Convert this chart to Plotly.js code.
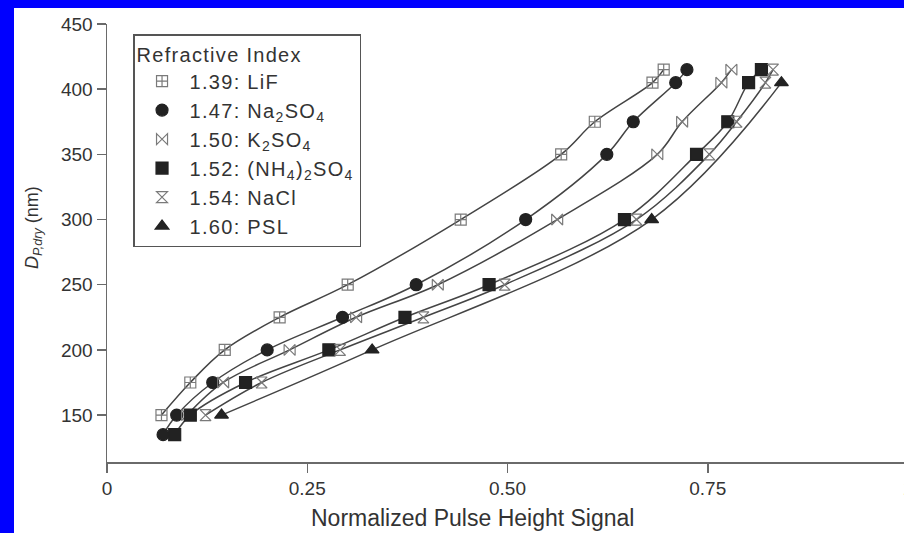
<!DOCTYPE html>
<html>
<head>
<meta charset="utf-8">
<script src="https://cdn.plot.ly/plotly-3.0.1.min.js"></script>
<style>
html, body { margin: 0; padding: 0; background: #0000ff; overflow: hidden; width: 904px; height: 533px; }
#chart { position: absolute; left: 14px; top: 8px; width: 914px; height: 525px; background: #fff; }
.legendtext, .legendtitletext { letter-spacing: 1.3px; }
</style>
</head>
<body>
<div id="chart"></div>
<script>
// Data
const seriesNames = ['1.39: LiF', '1.47: Na<sub>2</sub>SO<sub>4</sub>', '1.50: K<sub>2</sub>SO<sub>4</sub>',
  '1.52: (NH<sub>4</sub>)<sub>2</sub>SO<sub>4</sub>', '1.54: NaCl', '1.60: PSL'];

const lifX  = [0.068, 0.104, 0.147, 0.2155, 0.3005, 0.4416, 0.567, 0.609, 0.681, 0.695];
const lifY  = [150, 175, 200, 225, 250, 300, 350, 375, 405, 415];

const naX   = [0.070, 0.087, 0.132, 0.200, 0.294, 0.386, 0.5227, 0.624, 0.657, 0.710, 0.724];
const naY   = [135, 150, 175, 200, 225, 250, 300, 350, 375, 405, 415];

const kX    = [0.100, 0.145, 0.228, 0.311, 0.413, 0.562, 0.687, 0.718, 0.767, 0.7795];
const kY    = [150, 175, 200, 225, 250, 300, 350, 375, 405, 415];

const nh4X  = [0.0845, 0.104, 0.173, 0.277, 0.372, 0.477, 0.646, 0.736, 0.775, 0.801, 0.817];
const nh4Y  = [135, 150, 175, 200, 225, 250, 300, 350, 375, 405, 415];

const naclX = [0.123, 0.193, 0.291, 0.395, 0.4965, 0.661, 0.752, 0.786, 0.822, 0.8315];
const naclY = [150, 175, 200, 225, 250, 300, 350, 375, 405, 415];

const pslX  = [0.143, 0.331, 0.680, 0.842];
const pslY  = [150, 200, 300, 405];

const xTickVals = [0, 0.25, 0.5, 0.75, 1];
const xTickText = ['0', '0.25', '0.50', '0.75', '1'];
const yTickVals = [150, 200, 250, 300, 350, 400, 450];

const xs = [lifX, naX, kX, nh4X, naclX, pslX];
const ys = [lifY, naY, kY, nh4Y, naclY, pslY];
const symbols = ['square-cross-open', 'circle', 'bowtie-open', 'square', 'hourglass-open', 'triangle-up'];
const mColors = ['#7a7a7a', '#222222', '#7a7a7a', '#222222', '#7a7a7a', '#222222'];
const mSizes = [11, 12, 11, 12, 11, 12];

const traces = [];
for (let i = 0; i < xs.length; i++) {
  traces.push({
    x: xs[i], y: ys[i], type: 'scatter', mode: 'lines',
    line: { color: '#444', width: 1.5, shape: 'spline', smoothing: 1 },
    showlegend: false, hoverinfo: 'skip'
  });
}
for (let i = 0; i < xs.length; i++) {
  traces.push({
    x: xs[i], y: ys[i], type: 'scatter', mode: 'markers', name: seriesNames[i],
    marker: { symbol: symbols[i], size: mSizes[i], color: mColors[i],
              line: { color: mColors[i], width: 1.2 } },
    cliponaxis: false
  });
}

const font = 'Liberation Sans, Arial, Helvetica, sans-serif';
const layout = {
  width: 914, height: 525,
  margin: { l: 93, r: 20, t: 16, b: 71 },
  paper_bgcolor: '#ffffff', plot_bgcolor: '#ffffff',
  font: { family: font, color: '#333', size: 19 },
  showlegend: true,
  legend: {
    x: 0.0325, y: 0.977, xanchor: 'left', yanchor: 'top',
    bordercolor: '#555', borderwidth: 1.5, bgcolor: '#fff',
    font: { family: font, size: 20, color: '#333' },
    title: { text: 'Refractive Index', font: { family: font, size: 20, color: '#333' } },
    itemwidth: 45,
    tracegroupgap: 0
  },
  xaxis: {
    range: [0, 1], tickvals: xTickVals, ticktext: xTickText,
    showgrid: false, zeroline: false, showline: true, linecolor: '#6a6a6a', linewidth: 1.5,
    ticks: 'outside', ticklen: 9, tickwidth: 1.5, tickcolor: '#6a6a6a',
    tickfont: { family: font, size: 19, color: '#333' }, fixedrange: true
  },
  yaxis: {
    range: [114, 450], tickvals: yTickVals,
    showgrid: false, zeroline: false, showline: true, linecolor: '#6a6a6a', linewidth: 1.5,
    ticks: 'outside', ticklen: 9, tickwidth: 1.5, tickcolor: '#6a6a6a',
    tickfont: { family: font, size: 19, color: '#333' }, fixedrange: true
  },
  annotations: [
    { text: 'Normalized Pulse Height Signal', xref: 'paper', yref: 'paper',
      x: 0.4557, y: -0.128, xanchor: 'center', yanchor: 'middle', showarrow: false,
      font: { family: font, size: 23, color: '#333' } },
    { text: '<i>D</i><sub><i>P,dry</i></sub> (nm)', xref: 'paper', yref: 'paper',
      x: -0.0924, y: 0.5365, xanchor: 'center', yanchor: 'middle', showarrow: false,
      textangle: -90, font: { family: font, size: 18, color: '#333' } }
  ]
};

Plotly.newPlot('chart', traces, layout, { displayModeBar: false, staticPlot: true });
</script>
</body>
</html>
